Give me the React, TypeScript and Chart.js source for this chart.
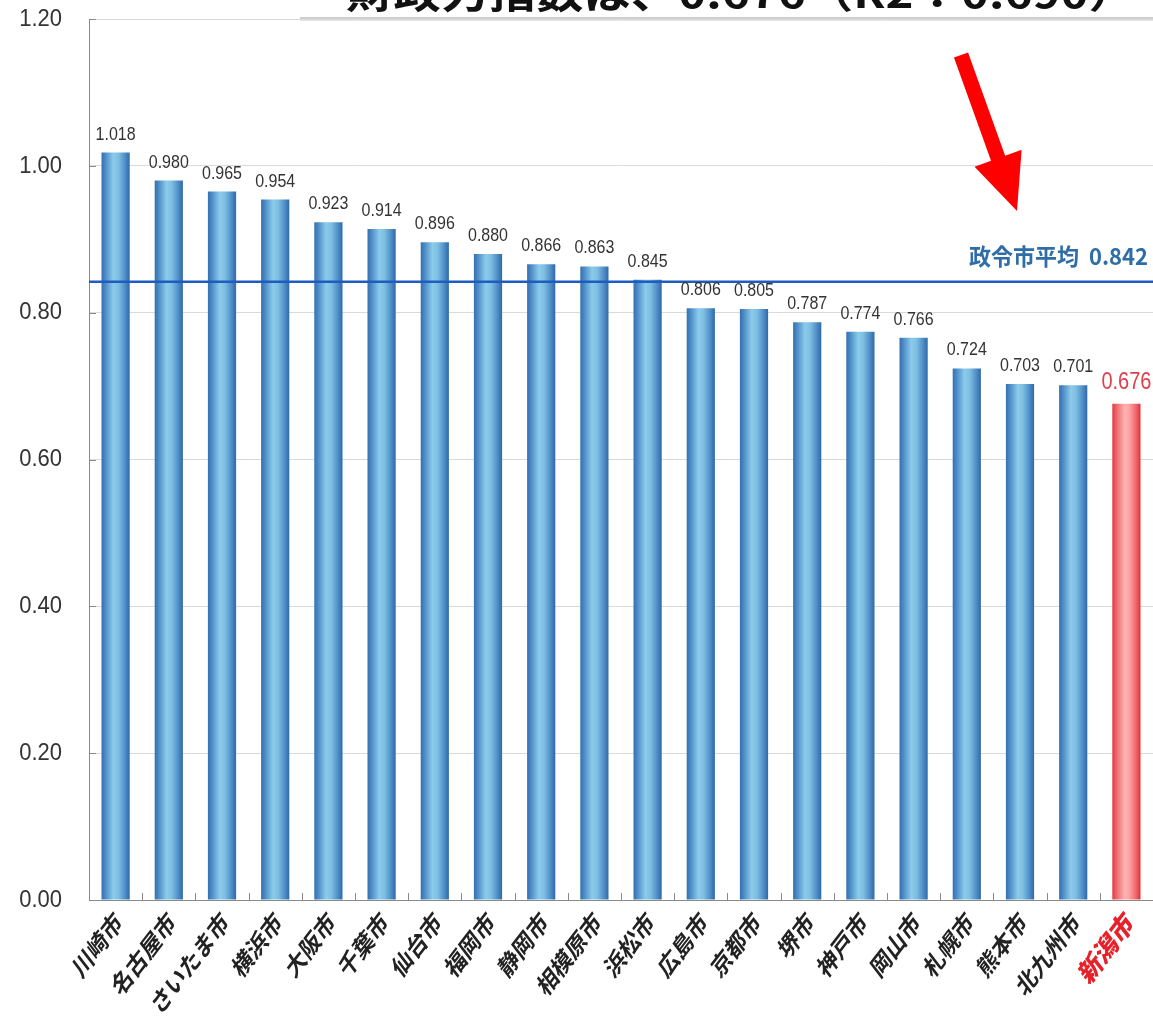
import React, { useEffect, useRef } from "react";
import { Chart, registerables } from "chart.js";

Chart.register(...registerables);

// 政令市の財政力指数
const cities = [
  "川崎市", "名古屋市", "さいたま市", "横浜市", "大阪市", "千葉市", "仙台市",
  "福岡市", "静岡市", "相模原市", "浜松市", "広島市", "京都市", "堺市",
  "神戸市", "岡山市", "札幌市", "熊本市", "北九州市", "新潟市",
];
const indexValues = [
  1.018, 0.98, 0.965, 0.954, 0.923, 0.914, 0.896, 0.88, 0.866, 0.863,
  0.845, 0.806, 0.805, 0.787, 0.774, 0.766, 0.724, 0.703, 0.701, 0.676,
];
const highlightCity = "新潟市";
const averageValue = 0.842;
const averageLabel = "政令市平均";
const headline = "財政力指数は、0.676（R2：0.690）";
const yTicks = [0, 0.2, 0.4, 0.6, 0.8, 1.0, 1.2];

const W = 1153;
const H = 1029;
const CJK = '"Noto Sans CJK JP", "Noto Sans", sans-serif';
const NUM = '"Liberation Sans", Arial, sans-serif';
const BAR_FRACTION = 0.53;
const PLOT_TOP = 19;
const PLOT_BOTTOM = 900;
const PLOT_LEFT = 89;

function barGradient(ctx: CanvasRenderingContext2D, x0: number, x1: number, red: boolean) {
  const g = ctx.createLinearGradient(x0, 0, x1, 0);
  if (red) {
    g.addColorStop(0, "#e23a3f");
    g.addColorStop(0.18, "#f07074");
    g.addColorStop(0.45, "#ffb3b3");
    g.addColorStop(0.6, "#ffa3a3");
    g.addColorStop(0.85, "#f06468");
    g.addColorStop(1, "#dc3036");
  } else {
    g.addColorStop(0, "#3470ae");
    g.addColorStop(0.14, "#4c8cc7");
    g.addColorStop(0.42, "#8ccbea");
    g.addColorStop(0.6, "#7dbfe3");
    g.addColorStop(0.86, "#4a89c3");
    g.addColorStop(1, "#3068a6");
  }
  return g;
}

// text drawn slightly taller than wide
function stretchedText(
  ctx: CanvasRenderingContext2D,
  text: string,
  x: number,
  y: number,
  k: number,
  angle = 0
) {
  ctx.save();
  ctx.translate(x, y);
  ctx.scale(1, k);
  if (angle) ctx.rotate(angle);
  ctx.fillText(text, 0, 0);
  ctx.restore();
}

const decorPlugin = {
  id: "decor",
  beforeDraw(chart: any) {
    const ctx: CanvasRenderingContext2D = chart.ctx;
    ctx.save();
    ctx.fillStyle = "#ffffff";
    ctx.fillRect(0, 0, chart.width, chart.height);

    // headline running off the top edge
    ctx.font = `bold 40px ${CJK}`;
    ctx.fillStyle = "#111111";
    ctx.textAlign = "left";
    ctx.textBaseline = "alphabetic";
    const tw = ctx.measureText(headline).width;
    const target = 790;
    ctx.translate(346, 8);
    ctx.scale(target / tw, 1);
    ctx.fillText(headline, 0, 0);
    ctx.restore();

    ctx.save();
    ctx.fillStyle = "#cfcfcf";
    ctx.fillRect(300, 17, W - 300, 2);
    ctx.fillStyle = "#e6e6e6";
    ctx.fillRect(300, 19, W - 300, 2);
    ctx.restore();
  },
  afterDatasetsDraw(chart: any) {
    const ctx: CanvasRenderingContext2D = chart.ctx;
    const xs = chart.scales.x;
    const ys = chart.scales.y;
    const area = chart.chartArea;
    const meta = chart.getDatasetMeta(0);

    ctx.save();
    // y tick labels and inward tick marks
    ctx.strokeStyle = "#8a8a8a";
    ctx.lineWidth = 1;
    ctx.font = `22px ${NUM}`;
    ctx.fillStyle = "#333333";
    ctx.textAlign = "right";
    ctx.textBaseline = "middle";
    yTicks.forEach((v) => {
      const yp = ys.getPixelForValue(v);
      const y = Math.round(yp) + 0.5;
      ctx.beginPath();
      ctx.moveTo(area.left, y);
      ctx.lineTo(area.left + 7, y);
      ctx.stroke();
      stretchedText(ctx, v.toFixed(2), 62, yp, 1.1);
    });
    const step = (area.right - area.left) / cities.length;
    for (let i = 1; i < cities.length; i++) {
      const x = Math.round(area.left + step * i) + 0.5;
      ctx.beginPath();
      ctx.moveTo(x, area.bottom);
      ctx.lineTo(x, area.bottom - 7);
      ctx.stroke();
    }

    // average line
    const ay = ys.getPixelForValue(averageValue);
    ctx.strokeStyle = "#1f5cc2";
    ctx.lineWidth = 2.5;
    ctx.beginPath();
    ctx.moveTo(area.left, ay);
    ctx.lineTo(W, ay);
    ctx.stroke();

    ctx.font = `bold 22px ${CJK}`;
    ctx.fillStyle = "#2f6da6";
    ctx.textAlign = "right";
    ctx.textBaseline = "middle";
    stretchedText(ctx, `${averageLabel}  ${averageValue.toFixed(3)}`, 1148, 256, 1.05);

    // value labels
    meta.data.forEach((bar: any, i: number) => {
      const red = cities[i] === highlightCity;
      const txt = indexValues[i].toFixed(3);
      ctx.textAlign = "center";
      ctx.textBaseline = "alphabetic";
      if (red) {
        ctx.font = `20px ${NUM}`;
        ctx.fillStyle = "#e0404c";
        stretchedText(ctx, txt, bar.x, bar.y - 15, 1.15);
      } else {
        ctx.font = `16px ${NUM}`;
        ctx.fillStyle = "#333333";
        stretchedText(ctx, txt, bar.x, bar.y - 13, 1.2);
      }
    });

    // rotated category labels
    cities.forEach((c, i) => {
      const x = xs.getPixelForValue(i);
      const red = c === highlightCity;
      ctx.textAlign = "right";
      ctx.textBaseline = "middle";
      ctx.font = red ? `900 22px ${CJK}` : `bold 20px ${CJK}`;
      ctx.fillStyle = red ? "#e8202a" : "#222222";
      stretchedText(ctx, c, x + 3, area.bottom + 17, 1.3, -Math.PI / 4);
    });

    // red pointer arrow
    const sx = 961, sy = 55, ex = 1017, ey = 211;
    const ang = Math.atan2(ey - sy, ex - sx);
    const len = Math.hypot(ex - sx, ey - sy);
    ctx.translate(sx, sy);
    ctx.rotate(ang);
    ctx.fillStyle = "#ff0000";
    const headLen = 56;
    const shaft = 7.5;
    const headHalf = 25;
    ctx.beginPath();
    ctx.moveTo(0, -shaft);
    ctx.lineTo(len - headLen, -shaft);
    ctx.lineTo(len - headLen, -headHalf);
    ctx.lineTo(len, 0);
    ctx.lineTo(len - headLen, headHalf);
    ctx.lineTo(len - headLen, shaft);
    ctx.lineTo(0, shaft);
    ctx.closePath();
    ctx.fill();
    ctx.restore();
  },
};

export default function App() {
  const ref = useRef<HTMLCanvasElement | null>(null);

  useEffect(() => {
    if (!ref.current) return;
    const chart = new Chart(ref.current, {
      type: "bar",
      data: {
        labels: cities,
        datasets: [
          {
            data: indexValues,
            barPercentage: BAR_FRACTION,
            categoryPercentage: 1,
            borderWidth: 0,
            backgroundColor: (c: any) => {
              const ch = c.chart;
              const xs = ch.scales?.x;
              const red = cities[c.dataIndex] === highlightCity;
              if (!ch.chartArea || !xs) return red ? "#f07074" : "#5fa3d6";
              const cx = xs.getPixelForValue(c.dataIndex);
              const w = (xs.width / cities.length) * BAR_FRACTION;
              return barGradient(ch.ctx, cx - w / 2, cx + w / 2, red);
            },
          },
        ],
      },
      options: {
        responsive: false,
        animation: false,
        layout: { padding: { top: PLOT_TOP, right: 0, left: 0, bottom: 0 } },
        plugins: {
          legend: { display: false },
          tooltip: { enabled: false },
          title: { display: false },
        },
        scales: {
          x: {
            grid: { display: false },
            border: { display: true, color: "#8a8a8a", width: 1 },
            ticks: { display: false },
            afterFit: (s: any) => {
              s.height = H - PLOT_BOTTOM;
            },
          },
          y: {
            min: 0,
            max: 1.2,
            afterBuildTicks: (s: any) => {
              s.ticks = yTicks.map((v) => ({ value: v }));
            },
            grid: { color: "#dadada", lineWidth: 1, drawTicks: false },
            border: { display: true, color: "#8a8a8a", width: 1 },
            ticks: { display: false },
            afterFit: (s: any) => {
              s.width = PLOT_LEFT;
            },
          },
        },
      },
      plugins: [decorPlugin],
    });
    return () => chart.destroy();
  }, []);

  return (
    <div style={{ position: "absolute", left: 0, top: 0, width: W, height: H, background: "#fff" }}>
      <canvas ref={ref} width={W} height={H} style={{ display: "block" }} />
    </div>
  );
}
